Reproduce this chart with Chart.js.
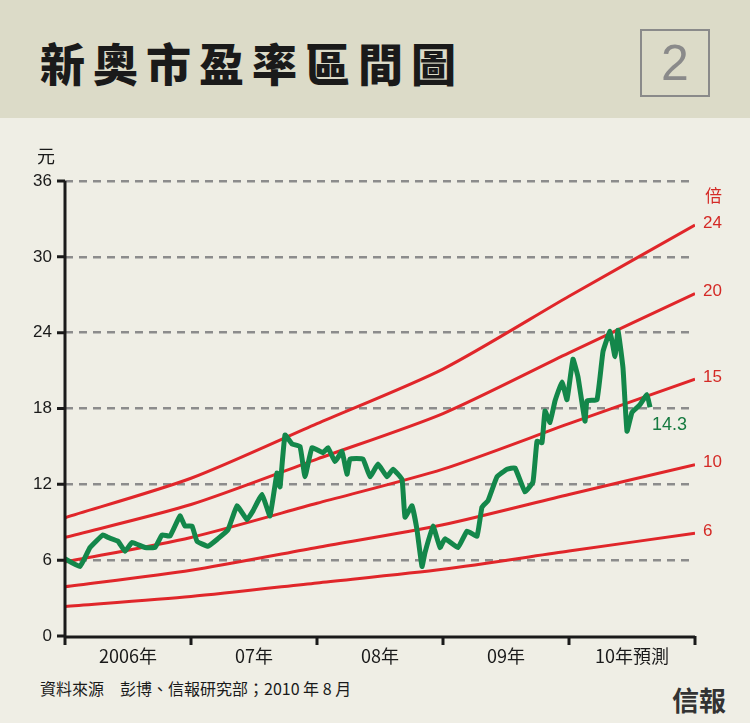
<!DOCTYPE html>
<html><head><meta charset="utf-8">
<script src="https://cdn.jsdelivr.net/npm/chart.js@4"></script>
<style>
body{margin:0;width:750px;height:723px;background:#efeee5;position:relative;overflow:hidden;font-family:"Noto Sans CJK TC","Liberation Sans",sans-serif}
#head{position:absolute;left:0;top:0;width:750px;height:118px;background:#dcdbc8}
#title{position:absolute;left:40px;top:30px;font-size:45px;font-weight:900;color:#1a1a1a;letter-spacing:8px}
#num{position:absolute;left:640px;top:29px;width:66px;height:64px;border:2px solid #8a8a8a;color:#8a8a8a;font:50px "Liberation Sans",sans-serif;text-align:center;line-height:64px}
#src{position:absolute;left:40px;top:676px;font-size:16px;color:#1a1a1a}
#logo{position:absolute;left:672px;top:680px;font-size:27px;font-weight:bold;color:#333}
canvas{position:absolute;left:0;top:0}
</style></head><body>
<div id="head"><div id="title">新奧市盈率區間圖</div><div id="num">2</div></div>
<div id="src">資料來源　彭博、信報研究部；2010 年 8 月</div>
<div id="logo">信報</div>
<canvas id="c" width="750" height="723"></canvas>
<script>
// months since Jan 2006
const bandMonths = [0, 12, 24, 36, 48, 60];
const eps = [0.39, 0.52, 0.70, 0.88, 1.12, 1.355];
const multiples = [24, 20, 15, 10, 6];
const years = ['2006年', '07年', '08年', '09年', '10年預測'];
const yTicks = [0, 6, 12, 18, 24, 30, 36];
const priceX = [63,80,90,103,108,118,125,132,145,155,162,170,180,185,192,197,208,218,228,237,247,253,262,270,277,280,285,292,300,305,312,323,
  328,335,342,347,350,363,370,378,387,393,402,405,412,417,422,425,433,440,445,458,467,477,482,488,497,507,515,525,533,537,542,545,550,555,562,567,573,578,585,587,597,603,610,615,618,623,627,632,640,647,650];
const priceY = [6.2,5.5,7.0,8.0,7.8,7.5,6.7,7.4,7.0,7.0,8.0,7.9,9.5,8.7,8.7,7.5,7.1,7.7,8.4,10.3,9.2,9.9,11.2,9.5,12.9,11.8,15.9,15.2,15.0,12.6,14.9,14.5,
  14.9,13.8,14.6,12.8,14.0,14.0,12.6,13.6,12.6,13.2,12.4,9.4,10.3,8.4,5.5,6.6,8.7,7.0,7.7,7.0,8.3,7.9,10.2,10.7,12.6,13.2,13.3,11.4,12.2,15.4,15.3,17.8,16.9,18.6,20.1,18.7,21.9,20.5,17.0,18.6,18.7,22.5,24.1,22.1,24.2,21.2,16.2,17.7,18.3,19.1,18.1];

document.addEventListener('DOMContentLoaded', () => {
    const toMonth = px => (px - 65) / 10.5;
    const price = priceX.map((x, i) => ({ x: toMonth(x), y: priceY[i] }));
    const bands = multiples.map(m => ({
        data: bandMonths.map((mo, i) => ({ x: mo, y: eps[i] * m })),
        borderColor: '#e0262a', borderWidth: 3, pointRadius: 0, tension: 0.25
    }));

    const decor = {
        id: 'decor',
        afterDraw(chart) {
            const { ctx, scales: { x, y }, chartArea: a } = chart;
            ctx.save();
            ctx.fillStyle = '#1a1a1a';
            ctx.font = '17px "Liberation Sans Narrow","Liberation Sans",sans-serif';
            ctx.textAlign = 'right'; ctx.textBaseline = 'middle';
            yTicks.forEach(v => ctx.fillText(v, a.left - 13, y.getPixelForValue(v)));
            ctx.strokeStyle = '#1a1a1a'; ctx.lineWidth = 3;
            ctx.beginPath();
            yTicks.forEach(v => { const p = y.getPixelForValue(v); ctx.moveTo(a.left - 8, p); ctx.lineTo(a.left, p); });
            bandMonths.forEach(m => { const p = x.getPixelForValue(m); ctx.moveTo(p, a.bottom); ctx.lineTo(p, a.bottom + 9); });
            ctx.moveTo(a.left, a.top); ctx.lineTo(a.left, a.bottom + 1); ctx.lineTo(a.right, a.bottom + 1);
            ctx.stroke();
            ctx.textAlign = 'center'; ctx.font = '18px "Noto Sans CJK TC",sans-serif';
            years.forEach((t, i) => ctx.fillText(t, (x.getPixelForValue(i * 12) + x.getPixelForValue(i * 12 + 12)) / 2, a.bottom + 20));
            ctx.textAlign = 'left';
            ctx.fillText('元', 37, a.top - 25);
            ctx.fillStyle = '#d42a26';
            ctx.font = '17px "Liberation Sans Narrow","Liberation Sans",sans-serif';
            multiples.forEach(m => ctx.fillText(m, a.right + 8, y.getPixelForValue(eps[5] * m) - 2));
            ctx.font = '17px "Noto Sans CJK TC",sans-serif';
            ctx.fillText('倍', a.right + 10, 196);
            ctx.fillStyle = '#167a40';
            ctx.font = '18px "Liberation Sans Narrow","Liberation Sans",sans-serif';
            ctx.fillText('14.3', 652, 425);
            ctx.restore();
        }
    };

    new Chart(document.getElementById('c'), {
        type: 'line',
        data: {
            datasets: [
                { data: price, borderColor: '#13874a', borderWidth: 5, pointRadius: 0, tension: 0.1, order: 0 },
                ...bands
            ]
        },
        options: {
            responsive: false, animation: false,
            layout: { padding: { left: 65, right: 55, top: 181, bottom: 79 } },
            plugins: { legend: { display: false }, tooltip: { enabled: false } },
            scales: {
                x: { type: 'linear', min: 0, max: 60, ticks: { display: false }, grid: { display: false }, border: { display: false } },
                y: {
                    min: 0, max: 36, ticks: { display: false, stepSize: 6 },
                    grid: { color: c => c.tick.value === 0 ? 'transparent' : '#8c8c8c', lineWidth: 2.5, drawTicks: false },
                    border: { display: false, dash: [8, 6] }
                }
            }
        },
        plugins: [decor]
    });
});
</script>
</body></html>
